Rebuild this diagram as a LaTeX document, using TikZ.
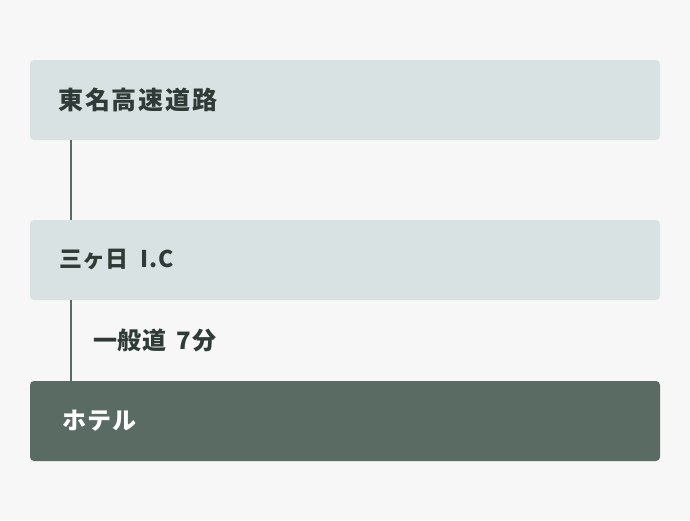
\documentclass[tikz,border=0pt]{standalone}
\usepackage{fontspec}
\setmainfont{Noto Sans CJK JP}
\definecolor{bg}{HTML}{F7F7F7}
\definecolor{lightbox}{HTML}{D9E2E2}
\definecolor{darkbox}{HTML}{5A6B64}
\definecolor{txt}{HTML}{2F3B37}
\begin{document}
\begin{tikzpicture}[x=1pt,y=-1pt,
  stagebox/.style={fill=lightbox, rounded corners=4pt, draw=none},
  hotelbox/.style={fill=darkbox, rounded corners=4pt, draw=none},
  titlelabel/.style={anchor=west, inner sep=0pt, text=txt, font=\bfseries\fontsize{25}{30}\selectfont},
  boxlabel/.style={anchor=west, inner sep=0pt, text=txt, font=\bfseries\fontsize{23}{28}\selectfont},
  hotellabel/.style={anchor=west, inner sep=0pt, text=white, font=\bfseries\fontsize{24}{28}\selectfont},
  routelabel/.style={anchor=west, inner sep=0pt, text=txt, font=\bfseries\fontsize{24}{28}\selectfont},
  link/.style={draw=darkbox, line width=2pt}]
\fill[bg] (0,0) rectangle (690,520);
\useasboundingbox (0,0) rectangle (690,520);
\path[stagebox] (30,60) rectangle (660,140);
\path[stagebox] (30,220) rectangle (660,300);
\path[hotelbox] (30,381) rectangle (660,461);
\coordinate (b1) at (71,140);
\coordinate (t2) at (71,220);
\coordinate (b2) at (71,300);
\coordinate (t3) at (71,381);
\node[titlelabel] (tomei) at (58,100) {東\kern1.8pt 名\kern1.8pt 高\kern1.8pt 速\kern1.8pt 道\kern1.8pt 路};
\node[boxlabel] (ic) at (59,260) {三ヶ日\hspace{12pt}I\kern1pt.\kern1.2pt C};
\node[routelabel] (route) at (93,340) {一\kern0.8pt 般\kern0.8pt 道\hspace{10pt}7\kern1pt 分};
\node[hotellabel] (hotel) at (62,421) {ホ\kern1pt テ\kern1pt ル};
\draw[link] (b1) -- (t2);
\draw[link] (b2) -- (t3);
\end{tikzpicture}
\end{document}
